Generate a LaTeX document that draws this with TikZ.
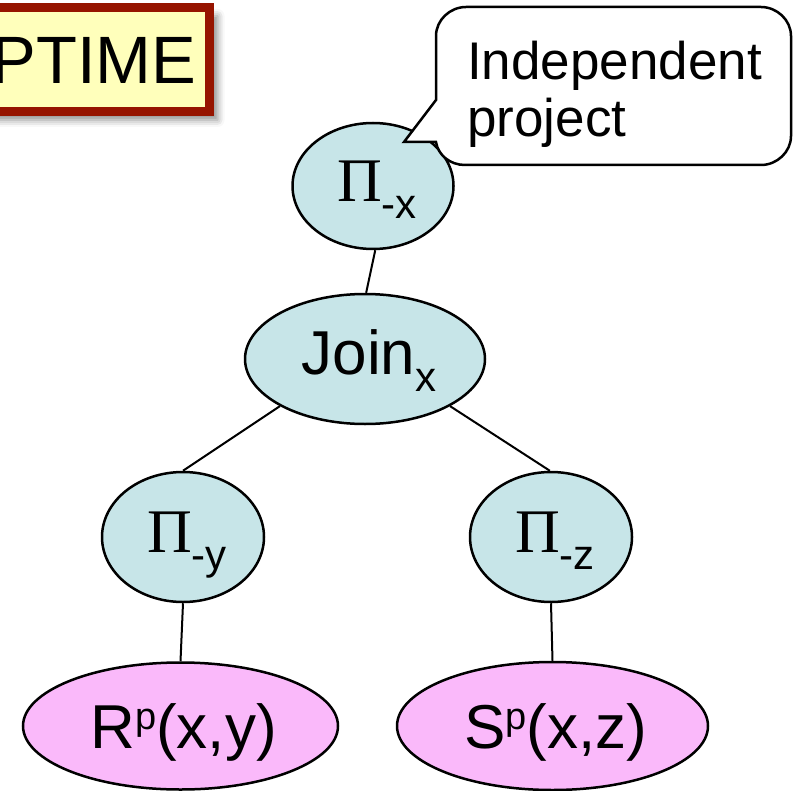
\documentclass[tikz,border=0pt]{standalone}
\usepackage{fontspec}
\setmainfont{Liberation Sans}
\newfontfamily\grkfont{Liberation Serif}
\usetikzlibrary{shapes.geometric,shadows.blur}
\definecolor{nodeblue}{RGB}{199,229,232}
\definecolor{leafpink}{RGB}{250,185,250}
\definecolor{noteyellow}{RGB}{255,255,187}
\definecolor{boxred}{RGB}{150,20,0}
\newcommand{\mysub}[1]{\raisebox{-17pt}{\fontsize{42}{42}\selectfont #1}}
\newcommand{\mysupp}[1]{\raisebox{19pt}{\fontsize{38}{38}\selectfont #1}}
\newcommand{\PiSym}{{\grkfont Π}}
\begin{document}
\begin{tikzpicture}[x=1pt,y=-1pt,
  opnode/.style={ellipse, draw, line width=2.5pt, fill=nodeblue, inner sep=0pt,
    text height=44pt, text depth=13pt, font=\fontsize{62}{62}\selectfont,
    execute at begin node={\hspace*{8pt}}},
  leafnode/.style={ellipse, draw, line width=2.5pt, fill=leafpink, inner sep=0pt,
    text height=56pt, text depth=12pt, font=\fontsize{62}{62}\selectfont,
    execute at begin node={\hspace*{6pt}}},
  edge/.style={line width=2pt},
  callout/.style={draw, line width=2.5pt, fill=white},
  ptbox/.style={draw=boxred, line width=9pt, fill=noteyellow, inner sep=0pt,
    minimum width=231pt, minimum height=104pt, font=\fontsize{67}{67}\selectfont,
    blur shadow={shadow xshift=8pt, shadow yshift=-8pt, shadow blur radius=7pt, shadow opacity=45}}
]
\useasboundingbox (0,0) rectangle (794,791);

% PTIME box
\node[ptbox] (ptime) at (94,60) {PTIME};

% tree nodes
\node[opnode, minimum width=161pt, minimum height=126pt] (px) at (373,186) {\PiSym\mysub{-x}};
\node[opnode, minimum width=240pt, minimum height=130pt] (join) at (365,359) {Join\mysub{x}};
\node[opnode, minimum width=162pt, minimum height=130pt] (py) at (183,537) {\PiSym\mysub{-y}};
\node[opnode, minimum width=162pt, minimum height=130pt] (pz) at (551,537) {\PiSym\mysub{-z}};
\node[leafnode, minimum width=315pt, minimum height=127pt] (r) at (180.5,726) {R\mysupp{p}(x,y)};
\node[leafnode, minimum width=311pt, minimum height=128pt] (s) at (552.5,726) {S\mysupp{p}(x,z)};

% connectors
\draw[edge] (px.-88) -- (join.89);
\draw[edge] (join.209) -- (py.north);
\draw[edge] (join.331.6) -- (pz.91);
\draw[edge] (py.south) -- (r.north);
\draw[edge] (pz.south) -- (s.north);

% callout
\draw[callout] (465,165) -- (761,165) .. controls (777,165) and (791,152) .. (791,136)
  -- (791,36) .. controls (791,20) and (777,7) .. (761,7)
  -- (466,7) .. controls (450,7) and (436,20) .. (436,36)
  -- (436,100) -- (404,142) -- (436,142)
  .. controls (438,155) and (450,165) .. (465,165) -- cycle;
\node[anchor=base west, align=left, inner sep=0pt, font=\fontsize{53}{57}\selectfont] (note) at (467,137) {Independent\\project};
\end{tikzpicture}
\end{document}
